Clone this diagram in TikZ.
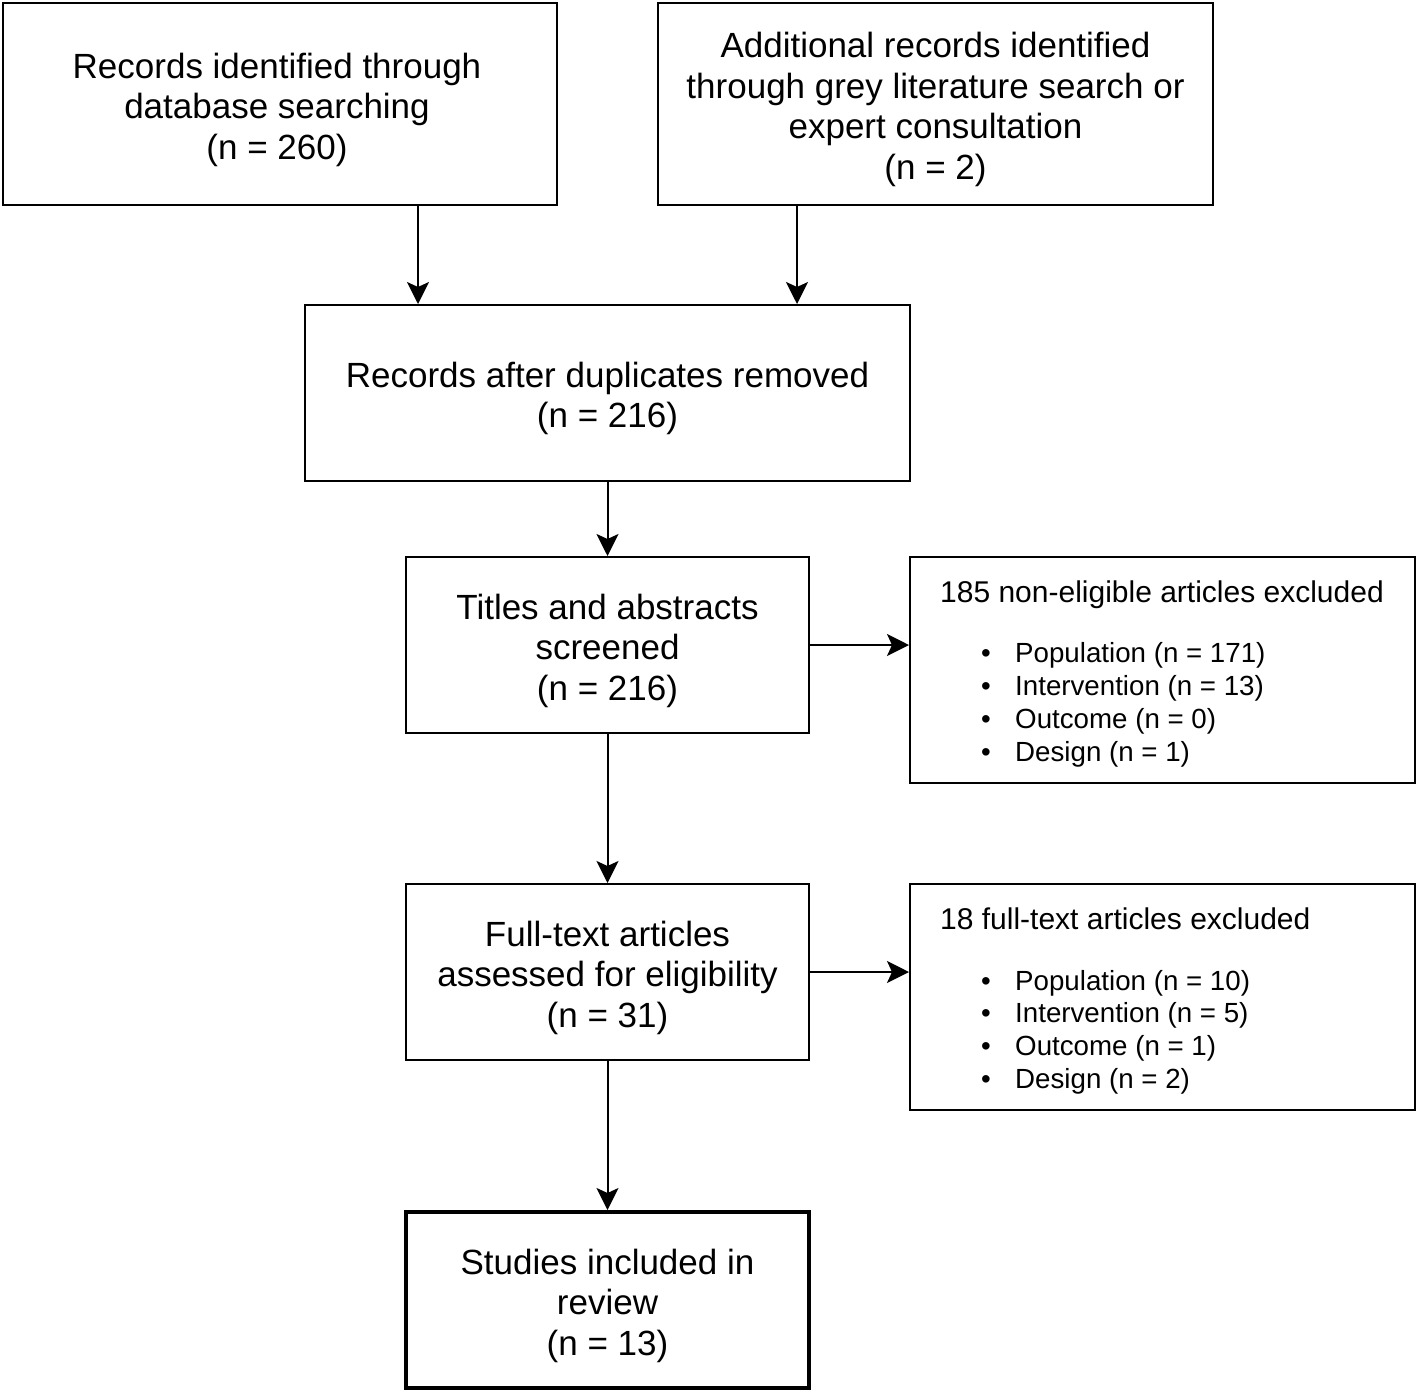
\documentclass[tikz,border=0pt]{standalone}
\usepackage{fontspec}
\setmainfont{Liberation Sans}
\usetikzlibrary{arrows.meta}
\newcommand{\blt}{\makebox[34pt][l]{•}}
\begin{document}
\begin{tikzpicture}[x=1pt,y=-1pt,
 box/.style={draw, line width=2pt, inner sep=0pt},
 txt/.style={align=center, inner sep=0pt, font=\fontsize{35}{40.5}\selectfont},
 arr/.style={line width=2pt, -{Stealth[length=22pt,width=22pt,inset=5pt]}},
 ttl/.style={anchor=base west, inner sep=0pt, font=\fontsize{30}{36}\selectfont},
 itm/.style={anchor=base west, inner sep=0pt, font=\fontsize{27.7}{33}\selectfont}]
\useasboundingbox[fill=white] (0,0) rectangle (1418,1393);

\node[box, minimum width=554pt, minimum height=202pt] (b1) at (280,104) {};
\node[box, minimum width=555pt, minimum height=202pt] (b2) at (935.5,104) {};
\node[box, minimum width=605pt, minimum height=176pt] (b3) at (607.5,393) {};
\node[box, minimum width=403pt, minimum height=176pt] (b4) at (607.5,645) {};
\node[box, minimum width=505pt, minimum height=226pt] (b5) at (1162.5,670) {};
\node[box, minimum width=403pt, minimum height=176pt] (b6) at (607.5,972) {};
\node[box, minimum width=505pt, minimum height=226pt] (b7) at (1162.5,997) {};
\node[box, line width=4pt, minimum width=403pt, minimum height=176pt] (b8) at (607.5,1300) {};

\node[txt] (t1) at ([xshift=-3pt,yshift=-5.5pt]b1.center) {Records identified through\\database searching\\(n = 260)};
\node[txt] (t2) at ([yshift=-5.5pt]b2.center) {Additional records identified\\through grey literature search or\\expert consultation\\(n = 2)};
\node[txt] (t3) at ([yshift=-5.5pt]b3.center) {Records after duplicates removed\\(n = 216)};
\node[txt] (t4) at ([yshift=-5.5pt]b4.center) {Titles and abstracts\\screened\\(n = 216)};
\node[txt] (t6) at ([yshift=-5.5pt]b6.center) {Full-text articles\\assessed for eligibility\\(n = 31)};
\node[txt] (t8) at ([yshift=-5.5pt]b8.center) {Studies included in\\review\\(n = 13)};

\node[ttl] (e1t) at (940,602) {185 non-eligible articles excluded};
\node[itm] (e1a) at (981,662) {\blt Population (n = 171)};
\node[itm] (e1b) at (981,695) {\blt Intervention (n = 13)};
\node[itm] (e1c) at (981,728) {\blt Outcome (n = 0)};
\node[itm] (e1d) at (981,761) {\blt Design (n = 1)};

\node[ttl] (e2t) at (940,929) {18 full-text articles excluded};
\node[itm] (e2a) at (981,990) {\blt Population (n = 10)};
\node[itm] (e2b) at (981,1022) {\blt Intervention (n = 5)};
\node[itm] (e2c) at (981,1055) {\blt Outcome (n = 1)};
\node[itm] (e2d) at (981,1088) {\blt Design (n = 2)};

\draw[arr] ([xshift=138pt]b1.south) -- ([xshift=138pt]b1.south |- b3.north);
\draw[arr] ([xshift=-138.5pt]b2.south) -- ([xshift=-138.5pt]b2.south |- b3.north);
\draw[arr] (b3.south) -- (b4.north);
\draw[arr] (b4.east) -- (b4.east -| b5.west);
\draw[arr] (b4.south) -- (b6.north);
\draw[arr] (b6.east) -- (b6.east -| b7.west);
\draw[arr] (b6.south) -- (b8.north);
\end{tikzpicture}
\end{document}
